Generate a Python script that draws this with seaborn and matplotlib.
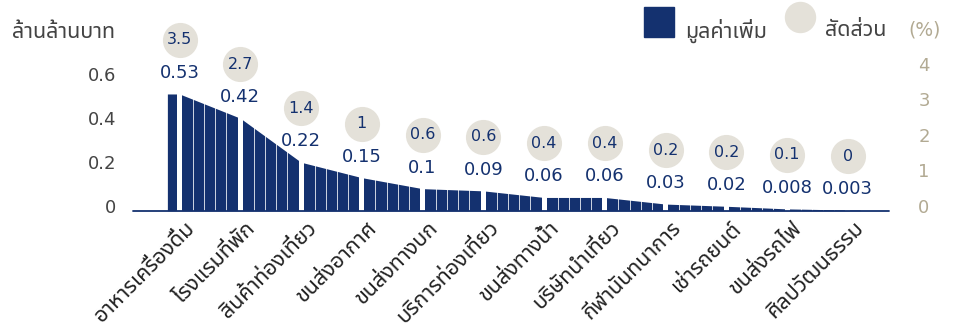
import numpy as np
import matplotlib
matplotlib.use("Agg")
import matplotlib.pyplot as plt
from matplotlib.transforms import ScaledTranslation
from matplotlib.lines import Line2D
import seaborn as sns

# Data
categories = ['อาหารเครื่องดื่ม', 'โรงแรมที่พัก', 'สินค้าท่องเที่ยว', 'ขนส่งอากาศ',
              'ขนส่งทางบก', 'บริการท่องเที่ยว', 'ขนส่งทางน้ำ', 'บริษัทนำเที่ยว',
              'กีฬานันทนาการ', 'เช่ารถยนต์', 'ขนส่งรถไฟ', 'ศิลปวัฒนธรรม']
value_added = [0.53, 0.42, 0.22, 0.15, 0.1, 0.09, 0.06, 0.06, 0.03, 0.02, 0.008, 0.003]
share_pct = [3.5, 2.7, 1.4, 1, 0.6, 0.6, 0.4, 0.4, 0.2, 0.2, 0.1, 0]
left_ticks = [0, 0.2, 0.4, 0.6]
right_ticks = [0, 1, 2, 3, 4]

NAVY = '#14316f'
BEIGE = '#e4e1d9'
TAN = '#b2aa93'
GREY = '#444444'
THAI = ['Noto Sans Thai', 'DejaVu Sans']

sns.set_style('white')
plt.rcParams['font.family'] = ['DejaVu Sans', 'Noto Sans Thai']

fig = plt.figure(figsize=(9.55, 3.36), dpi=100)
ax = fig.add_axes([0.139, 0.373, 0.792, 0.597])
ax2 = ax.twinx()

x = np.arange(len(categories))
# area shaped as a "skyline", with a short flat step on each end
xs = np.concatenate([[x[0] - 0.2], x, [x[-1] + 0.2]])
ys = np.concatenate([[value_added[0]], value_added, [value_added[-1]]])
ax.fill_between(xs, 0, ys, color=NAVY, lw=0, zorder=2)

# thin strips inside each interval and a white gap at each category
for i in x:
    for k in range(1, 5):
        ax.axvline(i + 0.041 + 0.183 * k, color='white', lw=0.7, alpha=0.8, zorder=3)
    ax.axvline(i - 0.005, color='white', lw=3.6, zorder=3)

ax.axhline(0, color=NAVY, lw=1.3, zorder=4, clip_on=False)

ax.set_xlim(-0.77, 11.68)
ax.set_ylim(0, 0.911)
ax2.set_ylim(0, 5.65)

# value labels and share bubbles, offset above each category's value
lab_tr = ax.transData + ScaledTranslation(0, 21 / 100, fig.dpi_scale_trans)
circ_tr = ax.transData + ScaledTranslation(0, 54 / 100, fig.dpi_scale_trans)
ax.scatter(x, value_added, s=640, color=BEIGE, lw=0, transform=circ_tr,
           zorder=5, clip_on=False)
for xi, v, p in zip(x, value_added, share_pct):
    ax.text(xi, v, f'{v:g}', transform=lab_tr, ha='center', va='center',
            fontsize=13, color=NAVY, zorder=6, clip_on=False)
    ax.text(xi, v, f'{p:g}', transform=circ_tr, ha='center', va='center',
            fontsize=11.5, color=NAVY, zorder=6, clip_on=False)

# axes styling
for a in (ax, ax2):
    for s in a.spines.values():
        s.set_visible(False)
ax.set_yticks(left_ticks)
ax.set_yticklabels([f'{t:g}' for t in left_ticks])
ax.tick_params(axis='y', length=0, pad=12, labelsize=13, labelcolor=GREY)
ax2.set_yticks(right_ticks)
ax2.tick_params(axis='y', length=0, pad=21, labelsize=13, labelcolor=TAN)
up = ScaledTranslation(0, 5 / 100, fig.dpi_scale_trans)
for lbl in ax.get_yticklabels() + ax2.get_yticklabels():
    lbl.set_transform(lbl.get_transform() + up)

ax.set_xticks(x)
ax.set_xticklabels(categories, rotation=45, ha='right', va='top',
                   rotation_mode='anchor', fontsize=15.5, fontweight='semibold',
                   family=THAI, color='#222222')
ax.tick_params(axis='x', length=0, pad=5)
for lbl in ax.get_xticklabels():
    lbl.set_transform(lbl.get_transform() + ScaledTranslation(5 / 100, 0, fig.dpi_scale_trans))

# titles and legend
fig.text(12 / 955, 1 - 33 / 336, 'ล้านล้านบาท', fontsize=15.5, color=GREY,
         va='center', ha='left', family=THAI)
fig.add_artist(Line2D([659 / 955], [1 - 22 / 336], marker='s', markersize=21.6,
                      color=NAVY, lw=0, transform=fig.transFigure))
fig.text(685 / 955, 1 - 31 / 336, 'มูลค่าเพิ่ม', fontsize=15.5, color=GREY,
         va='center', ha='left', family=THAI)
fig.add_artist(Line2D([800 / 955], [1 - 17 / 336], marker='o', markersize=21.6,
                      color=BEIGE, lw=0, transform=fig.transFigure))
fig.text(825 / 955, 1 - 31 / 336, 'สัดส่วน', fontsize=15.5, color=GREY,
         va='center', ha='left', family=THAI)
fig.text(908 / 955, 1 - 30 / 336, '(%)', fontsize=13.5, color=TAN,
         va='center', ha='left')

fig.savefig('out.png', dpi=100)
